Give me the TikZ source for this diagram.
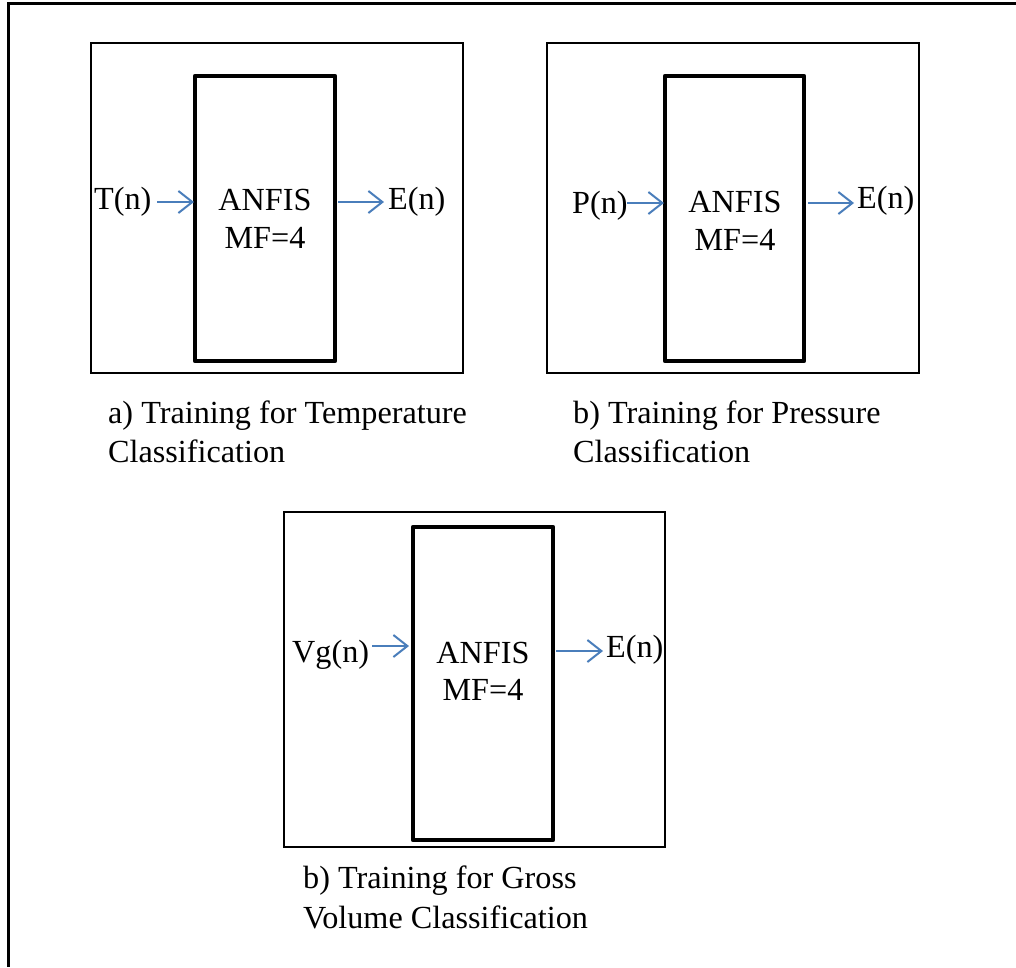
\documentclass[tikz,border=0pt]{standalone}
\usepackage{fontspec}
\setmainfont{Liberation Serif}
\usetikzlibrary{arrows.meta}
\definecolor{arrblue}{HTML}{4A7EBB}
\begin{document}
\begin{tikzpicture}[x=1pt,y=-1pt,
  txt/.style={inner sep=0pt,font=\fontsize{32.2}{37}\selectfont,anchor=base west},
  ctxt/.style={inner sep=0pt,font=\fontsize{32.2}{37}\selectfont,anchor=base},
  framebox/.style={draw=black,line width=2pt},
  anfisbox/.style={draw=black,line width=4.5pt,line join=round},
  arr/.style={draw=arrblue,line width=2pt,-{Straight Barb[length=14pt,width=22pt,line width=2pt]}}]
\useasboundingbox (0,0) rectangle (1016,967);
\fill[white] (0,0) rectangle (1016,967);
% outer frame (runs off the right and bottom edges)
\draw[line width=2.5pt] (1016,3.5) -- (8.5,3.5) -- (8.5,967);

% ---------- a) ----------
\draw[framebox] (91,42.5) rectangle (463,373);
\draw[anfisbox] (195,76) rectangle (335,361);
\node[ctxt] (anfisA) at (265,210) {ANFIS};
\node[ctxt] (mfA) at (265,248) {MF=4};
\node[txt] (inA) at (94,209) {T(n)};
\node[txt] (outA) at (388,209) {E(n)};
\coordinate (a1) at (157,202); \coordinate (a2) at (194,202);
\coordinate (a3) at (338,202); \coordinate (a4) at (384,202);
\draw[arr] (a1) -- (a2);
\draw[arr] (a3) -- (a4);
\node[txt] (capA1) at (108,423) {a) Training for Temperature};
\node[txt] (capA2) at (108,462) {Classification};

% ---------- b) ----------
\draw[framebox] (547,42.5) rectangle (919,373);
\draw[anfisbox] (665,76) rectangle (804,361);
\node[ctxt] (anfisB) at (735,212) {ANFIS};
\node[ctxt] (mfB) at (735,250) {MF=4};
\node[txt] (inB) at (572,213) {P(n)};
\node[txt] (outB) at (857,208) {E(n)};
\coordinate (b1) at (627,203); \coordinate (b2) at (664,203);
\coordinate (b3) at (808,203); \coordinate (b4) at (854,203);
\draw[arr] (b1) -- (b2);
\draw[arr] (b3) -- (b4);
\node[txt] (capB1) at (573,423) {b) Training for Pressure};
\node[txt] (capB2) at (573,462) {Classification};

% ---------- c) ----------
\draw[framebox] (284,512) rectangle (665,847);
\draw[anfisbox] (413,527) rectangle (553,840);
\node[ctxt] (anfisC) at (483,663) {ANFIS};
\node[ctxt] (mfC) at (483,700) {MF=4};
\node[txt] (inC) at (292,662) {Vg(n)};
\node[txt] (outC) at (606,657) {E(n)};
\coordinate (c1) at (372,646); \coordinate (c2) at (409,646);
\coordinate (c3) at (556,651); \coordinate (c4) at (603,651);
\draw[arr] (c1) -- (c2);
\draw[arr] (c3) -- (c4);
\node[txt] (capC1) at (303,888) {b) Training for Gross};
\node[txt] (capC2) at (303,928) {Volume Classification};
\end{tikzpicture}
\end{document}
